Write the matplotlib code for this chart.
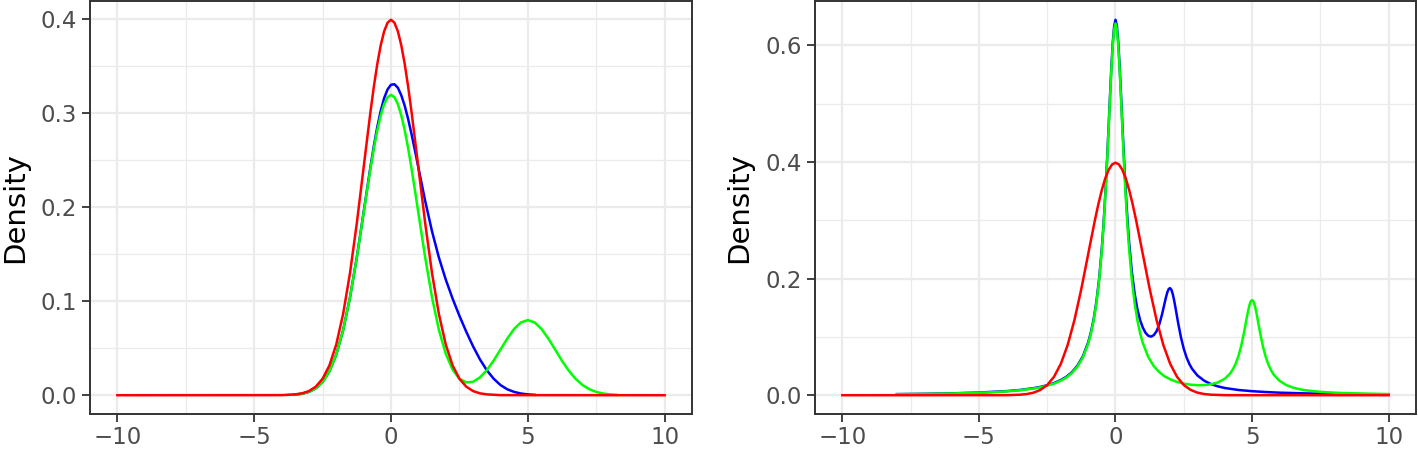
import matplotlib.pyplot as plt
from matplotlib.ticker import FormatStrFormatter

# ---- shared normal curve (red, drawn in both panels) ----
normal_x = [-10, -4, -3.5, -3.25, -3, -2.75, -2.5, -2.25, -2, -1.75, -1.5, -1.25,
            -1, -0.875, -0.75, -0.625, -0.5, -0.375, -0.25, -0.125, 0,
            0.125, 0.25, 0.375, 0.5, 0.625, 0.75, 0.875, 1,
            1.25, 1.5, 1.75, 2, 2.25, 2.5, 2.75, 3, 3.25, 3.5, 4, 10]
normal_y = [0.0, 0.0001, 0.0009, 0.0020, 0.0044, 0.0091, 0.0175, 0.0317, 0.0540, 0.0863, 0.1295, 0.1826,
            0.2420, 0.2717, 0.3011, 0.3282, 0.3521, 0.3719, 0.3867, 0.3958, 0.3989,
            0.3958, 0.3867, 0.3719, 0.3521, 0.3282, 0.3011, 0.2717, 0.2420,
            0.1826, 0.1295, 0.0863, 0.0540, 0.0317, 0.0175, 0.0091, 0.0044, 0.0020, 0.0009, 0.0001, 0.0]

# ---- left panel ----
left_blue_x = [-3.5, -3.25, -3, -2.75, -2.5, -2.25, -2, -1.75, -1.5, -1.25,
               -1, -0.875, -0.75, -0.625, -0.5, -0.375, -0.25, -0.125, 0,
               0.125, 0.25, 0.375, 0.5, 0.625, 0.75, 0.875, 1,
               1.25, 1.5, 1.75, 2, 2.25, 2.5, 2.75, 3, 3.25, 3.5, 3.75,
               4, 4.25, 4.5, 4.75, 5, 5.25]
left_blue_y = [0.0007, 0.0016, 0.0035, 0.0073, 0.0140, 0.0254, 0.0432, 0.0691, 0.1038, 0.1465,
               0.1945, 0.2189, 0.2427, 0.2651, 0.2852, 0.3022, 0.3157, 0.3249, 0.3299,
               0.3304, 0.3267, 0.3187, 0.3076, 0.2936, 0.2774, 0.2600, 0.2420,
               0.2063, 0.1740, 0.1463, 0.1230, 0.1027, 0.0844, 0.0675, 0.0519, 0.0381, 0.0266, 0.0176,
               0.0108, 0.0063, 0.0035, 0.0018, 0.0009, 0.0004]

left_green_x = [-3.75, -3.5, -3.25, -3, -2.75, -2.5, -2.25, -2, -1.75, -1.5, -1.25,
                -1, -0.875, -0.75, -0.625, -0.5, -0.375, -0.25, -0.125, 0,
                0.125, 0.25, 0.375, 0.5, 0.625, 0.75, 0.875, 1,
                1.25, 1.5, 1.75, 2, 2.25, 2.5, 2.75, 3, 3.25, 3.5, 3.75,
                4, 4.25, 4.5, 4.75, 5, 5.25, 5.5, 5.75, 6, 6.25, 6.5, 6.75,
                7, 7.25, 7.5, 7.75, 8, 8.25]
left_green_y = [0.0003, 0.0007, 0.0016, 0.0035, 0.0073, 0.0140, 0.0254, 0.0432, 0.0690, 0.1036, 0.1461,
                0.1936, 0.2176, 0.2409, 0.2626, 0.2817, 0.2974, 0.3094, 0.3166, 0.3191,
                0.3166, 0.3094, 0.2974, 0.2817, 0.2626, 0.2409, 0.2176, 0.1936,
                0.1462, 0.1038, 0.0694, 0.0441, 0.0272, 0.0175, 0.0136, 0.0143, 0.0189, 0.0266, 0.0368,
                0.0485, 0.0602, 0.0705, 0.0774, 0.0798, 0.0773, 0.0704, 0.0602, 0.0484, 0.0365, 0.0259, 0.0173,
                0.0108, 0.0063, 0.0035, 0.0018, 0.0009, 0.0004]

# ---- right panel ----
right_blue_x = [-8, -7, -6, -5, -4, -3.5, -3, -2.75, -2.5, -2.25, -2, -1.8, -1.6, -1.4, -1.2,
                -1, -0.9, -0.8, -0.7, -0.6, -0.5, -0.45, -0.4, -0.35, -0.3, -0.25, -0.2, -0.15, -0.1, -0.05, 0,
                0.05, 0.1, 0.15, 0.2, 0.25, 0.3, 0.35, 0.4, 0.45, 0.5, 0.6, 0.7, 0.8, 0.9,
                1, 1.1, 1.2, 1.3, 1.4, 1.5, 1.6, 1.7, 1.75, 1.8, 1.85, 1.9, 1.95,
                2, 2.05, 2.1, 2.15, 2.2, 2.25, 2.3, 2.4, 2.5, 2.6, 2.7, 2.8,
                3, 3.25, 3.5, 3.75, 4, 4.5, 5, 5.5, 6, 7, 8, 9, 10]
right_blue_y = [0.0019, 0.0024, 0.0032, 0.0046, 0.0070, 0.0090, 0.0121, 0.0143, 0.0171, 0.0209, 0.0261, 0.0316, 0.0393, 0.0503, 0.0661,
                0.0906, 0.1080, 0.1306, 0.1601, 0.1995, 0.2524, 0.2851, 0.3226, 0.3651, 0.4121, 0.4627, 0.5144, 0.5635, 0.6048, 0.6326, 0.6440,
                0.6340, 0.6065, 0.5660, 0.5175, 0.4665, 0.4170, 0.3710, 0.3295, 0.2930, 0.2615, 0.2110, 0.1745, 0.1480, 0.1290,
                0.1160, 0.1070, 0.1020, 0.1005, 0.1030, 0.1095, 0.1210, 0.1380, 0.1480, 0.1585, 0.1685, 0.1770, 0.1824,
                0.1837, 0.1805, 0.1728, 0.1618, 0.1490, 0.1355, 0.1222, 0.0985, 0.0795, 0.0650, 0.0540, 0.0455,
                0.0338, 0.0248, 0.0190, 0.0152, 0.0124, 0.0090, 0.0069, 0.0055, 0.0044, 0.0031, 0.0023, 0.0018, 0.0014]

right_green_x = [-8, -7, -6, -5, -4.5, -4, -3.5, -3, -2.75, -2.5, -2.25, -2, -1.8, -1.6, -1.4, -1.2,
                 -1, -0.9, -0.8, -0.7, -0.6, -0.5, -0.45, -0.4, -0.35, -0.3, -0.25, -0.2, -0.15, -0.1, -0.05, 0,
                 0.05, 0.1, 0.15, 0.2, 0.25, 0.3, 0.35, 0.4, 0.45, 0.5, 0.6, 0.7, 0.8, 0.9,
                 1, 1.2, 1.4, 1.6, 1.8, 2, 2.25, 2.5, 2.75, 3, 3.25, 3.5, 3.75,
                 4, 4.2, 4.3, 4.4, 4.5, 4.6, 4.7, 4.75, 4.8, 4.85, 4.9, 4.95,
                 5, 5.05, 5.1, 5.15, 5.2, 5.25, 5.3, 5.4, 5.5, 5.6, 5.7, 5.8,
                 6, 6.25, 6.5, 6.75, 7, 7.5, 8, 8.5, 9, 10]
right_green_y = [0.0018, 0.0023, 0.0030, 0.0043, 0.0052, 0.0066, 0.0086, 0.0115, 0.0136, 0.0164, 0.0200, 0.0250, 0.0304, 0.0380, 0.0487, 0.0643,
                 0.0885, 0.1057, 0.1281, 0.1574, 0.1966, 0.2492, 0.2818, 0.3191, 0.3614, 0.4083, 0.4587, 0.5102, 0.5591, 0.6001, 0.6278, 0.6376,
                 0.6278, 0.6002, 0.5593, 0.5104, 0.4589, 0.4085, 0.3618, 0.3195, 0.2822, 0.2496, 0.1971, 0.1581, 0.1288, 0.1065,
                 0.0894, 0.0654, 0.0500, 0.0396, 0.0323, 0.0273, 0.0228, 0.0199, 0.0181, 0.0172, 0.0174, 0.0188, 0.0220,
                 0.0283, 0.0375, 0.0447, 0.0542, 0.0671, 0.0844, 0.1065, 0.1189, 0.1317, 0.1438, 0.1540, 0.1609,
                 0.1633, 0.1607, 0.1537, 0.1434, 0.1310, 0.1181, 0.1055, 0.0831, 0.0655, 0.0522, 0.0423, 0.0348,
                 0.0248, 0.0174, 0.0130, 0.0101, 0.0082, 0.0058, 0.0044, 0.0035, 0.0029, 0.0020]

x_major = [-10, -5, 0, 5, 10]
x_minor = [-7.5, -2.5, 2.5, 7.5]
left_y_major = [0.0, 0.1, 0.2, 0.3, 0.4]
left_y_minor = [0.05, 0.15, 0.25, 0.35]
right_y_major = [0.0, 0.2, 0.4, 0.6]
right_y_minor = [0.1, 0.3, 0.5]

BLUE = '#0000FF'
GREEN = '#00FF00'
RED = '#FF0000'
GRID = '#EBEBEB'
DARK = '#333333'


def style_panel(ax, y_major, y_minor, label_x):
    ax.set_xticks(x_major)
    ax.set_xticks(x_minor, minor=True)
    ax.set_yticks(y_major)
    ax.set_yticks(y_minor, minor=True)
    ax.yaxis.set_major_formatter(FormatStrFormatter('%.1f'))
    ax.set_axisbelow(True)
    ax.grid(which='major', color=GRID, lw=1.6)
    ax.grid(which='minor', color=GRID, lw=0.9)
    ax.tick_params(which='minor', length=0)
    ax.tick_params(which='major', length=5.5, width=1.3, color=DARK,
                   labelcolor='#4D4D4D', labelsize=16.5)
    ax.tick_params(axis='x', pad=3)
    ax.tick_params(axis='y', pad=4)
    for sp in ax.spines.values():
        sp.set_color(DARK)
        sp.set_linewidth(1.4)
    ax.set_ylabel('Density', fontsize=21, color='black', va='center')
    ax.yaxis.set_label_coords(label_x, 0.5)


fig = plt.figure(figsize=(14.18, 4.5), dpi=100)
ax1 = fig.add_axes([0.06347, 0.08, 0.42454, 0.9178])
ax2 = fig.add_axes([0.57475, 0.08, 0.42384, 0.9178])

ax1.plot(left_blue_x, left_blue_y, color=BLUE, lw=1.8)
ax1.plot(left_green_x, left_green_y, color=GREEN, lw=1.8)
ax1.plot(normal_x, normal_y, color=RED, lw=1.8)

ax2.plot(right_blue_x, right_blue_y, color=BLUE, lw=1.8)
ax2.plot(right_green_x, right_green_y, color=GREEN, lw=1.8)
ax2.plot(normal_x, normal_y, color=RED, lw=1.8)

style_panel(ax1, left_y_major, left_y_minor, -0.1246)
style_panel(ax2, right_y_major, right_y_minor, -0.1265)

fig.savefig('out.png', dpi=100)
